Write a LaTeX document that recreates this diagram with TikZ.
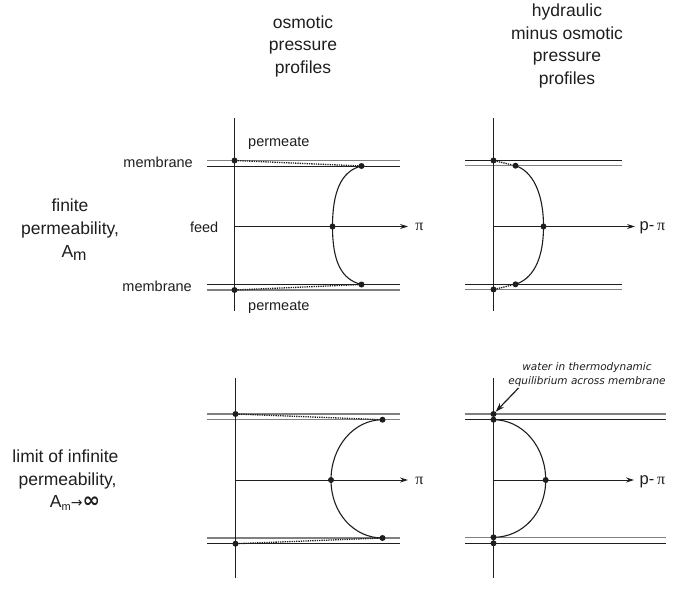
\documentclass[tikz,border=0pt]{standalone}
\usepackage{fontspec}
\setmainfont{Liberation Sans}
\newfontfamily\dejavu{DejaVu Sans}
\newfontfamily\timesf{Liberation Serif}
\usetikzlibrary{arrows.meta}
\definecolor{ink}{HTML}{1E1E1E}
\definecolor{memgray}{HTML}{808080}
\begin{document}
\begin{tikzpicture}[x=1pt,y=-1pt,
  axis/.style={draw=ink, line width=0.9pt},
  thickax/.style={draw=ink, line width=1.8pt},
  memA/.style={draw=ink, line width=1pt},
  memB/.style={draw=memgray, line width=1.2pt},
  dot/.style={circle, fill=ink, inner sep=0pt, minimum size=6pt},
  prof/.style={draw=ink, line width=1.1pt},
  dotl/.style={draw=ink, line width=1.3pt, densely dotted},
  arr/.style={-{Stealth[length=8pt,width=5pt]}},
  bigtxt/.style={font=\fontsize{17.5}{21}\selectfont, text=ink, inner sep=0pt, anchor=base},
  smalltxt/.style={font=\fontsize{14.5}{16}\selectfont, text=ink, inner sep=0pt},
  anntxt/.style={font=\dejavu\itshape\fontsize{10.5}{12}\selectfont, text=ink, inner sep=0pt, anchor=base}]
\useasboundingbox (0,0) rectangle (687,589);

% ---------- headers ----------
\node[bigtxt] (h1a) at (303,28.3) {osmotic};
\node[bigtxt] (h1b) at (303,50.8) {pressure};
\node[bigtxt] (h1c) at (303,73.3) {profiles};
\node[bigtxt] (h2a) at (567,16.7) {hydraulic};
\node[bigtxt] (h2b) at (567,39.2) {minus osmotic};
\node[bigtxt] (h2c) at (567,61.7) {pressure};
\node[bigtxt] (h2d) at (567,84.2) {profiles};

% ---------- row labels ----------
\node[bigtxt] (r1a) at (70,211) {finite};
\node[bigtxt] (r1b) at (70,234) {permeability,};
\node[bigtxt] (r1c) at (74,257) {A\raisebox{-3pt}{\fontsize{16}{16}\selectfont m}};
\node[bigtxt] (r2a) at (65.5,462.7) {limit of infinite};
\node[bigtxt] (r2b) at (67.5,485.2) {permeability,};
\node[bigtxt] (r2c) at (75,507) {A\raisebox{-3pt}{\fontsize{11}{11}\selectfont m}{\dejavu\fontsize{14}{14}\selectfont →}{\dejavu\bfseries\fontsize{21}{21}\selectfont ∞}};

% ---------- panel 1: osmotic, finite ----------
\draw[memB] (207,160.5) -- (400,160.5);
\draw[memA] (207,166) -- (400,166);
\draw[memA] (207,284.5) -- (400,284.5);
\draw[memB] (207,290) -- (400,290);
\coordinate (p1top) at (234.5,118);
\coordinate (p1bot) at (234.5,311);
\coordinate (p1o) at (234.5,226.5);
\coordinate (p1x) at (408,226.5);
\node[dot] (p1a) at (234.5,160.5) {};
\node[dot] (p1b) at (361.5,166) {};
\node[dot] (p1c) at (332.5,226.5) {};
\node[dot] (p1d) at (361.5,284.5) {};
\node[dot] (p1e) at (234.5,290) {};
\draw[axis] (p1top) -- (p1bot);
\draw[thickax] (p1top) -- (p1a.center);
\draw[thickax] (p1e.center) -- (p1bot);
\draw[axis,arr] (p1o) -- (p1x);
\node[inner sep=0pt, text=ink, font=\fontsize{16}{16}\selectfont] (p1pi) at (419.5,227) {\timesf π};
\draw[dotl] (p1a) -- (p1b);
\draw[dotl] (p1e) -- (p1d);
\draw[prof] (p1b.center) .. controls (341,171) and (332.5,192) .. (p1c.center)
  .. controls (332.5,261) and (341,279.5) .. (p1d.center);
\node[smalltxt, anchor=east] (m1) at (193,162) {membrane};
\node[smalltxt, anchor=east] (f1) at (218.5,227) {feed};
\node[smalltxt, anchor=east] (m2) at (192,286.5) {membrane};
\node[smalltxt, anchor=west] (pm1) at (248,143) {permeate};
\node[smalltxt, anchor=west] (pm2) at (248,307) {permeate};

% ---------- panel 2: hydraulic, finite ----------
\draw[memA] (465,160.5) -- (622,160.5);
\draw[memB] (465,165.7) -- (622,165.7);
\draw[memA] (465,284.3) -- (622,284.3);
\draw[memB] (465,289.5) -- (622,289.5);
\coordinate (q1top) at (493.5,118);
\coordinate (q1bot) at (493.5,311);
\coordinate (q1o) at (493.5,226.5);
\coordinate (q1x) at (635,226.5);
\node[dot] (q1a) at (493.5,160.5) {};
\node[dot] (q1b) at (515.5,165.7) {};
\node[dot] (q1c) at (543.5,226.5) {};
\node[dot] (q1d) at (515.5,284.3) {};
\node[dot] (q1e) at (493.5,289.5) {};
\draw[axis] (q1top) -- (q1bot);
\draw[thickax] (q1top) -- (q1a.center);
\draw[thickax] (q1e.center) -- (q1bot);
\draw[axis,arr] (q1o) -- (q1x);
\node[inner sep=0pt, text=ink, anchor=west, font=\fontsize{16.5}{16}\selectfont] (q1lab) at (639.5,228) {p-\,{\timesf\fontsize{16}{16}\selectfont π}};
\draw[dotl] (q1a) -- (q1b);
\draw[dotl] (q1e) -- (q1d);
\draw[prof] (q1b.center) .. controls (532,171) and (543.5,192) .. (q1c.center)
  .. controls (543.5,261) and (532,279) .. (q1d.center);

% ---------- panel 3: osmotic, infinite ----------
\draw[memB] (207,414) -- (400,414);
\draw[memB] (207,419.7) -- (400,419.7);
\draw[memB] (207,538) -- (400,538);
\draw[memA] (207,543.7) -- (400,543.7);
\coordinate (r1top) at (235.5,378);
\coordinate (r1bot) at (235.5,578);
\coordinate (r1o) at (235.5,480);
\coordinate (r1x) at (408,480);
\node[dot] (ra) at (235.5,414) {};
\node[dot] (rb) at (382.5,419.7) {};
\node[dot] (rc) at (331,480) {};
\node[dot] (rd) at (382.5,538) {};
\node[dot] (re) at (235.5,543.7) {};
\draw[axis] (r1top) -- (r1bot);
\draw[axis,arr] (r1o) -- (r1x);
\node[inner sep=0pt, text=ink, font=\fontsize{16}{16}\selectfont] (r1pi) at (419.5,481) {\timesf π};
\draw[dotl] (ra) -- (rb);
\draw[dotl] (re) -- (rd);
\draw[prof] (rb.center) .. controls (354,419.7) and (331,446.5) .. (rc.center)
  .. controls (331,513) and (354,538) .. (rd.center);

% ---------- panel 4: hydraulic, infinite ----------
\draw[memB] (465,414) -- (666,414);
\draw[memA] (465,419.7) -- (666,419.7);
\draw[memB] (465,537.3) -- (666,537.3);
\draw[memA] (465,543.3) -- (666,543.3);
\coordinate (s1top) at (493.5,378);
\coordinate (s1bot) at (493.5,578);
\coordinate (s1o) at (493.5,480);
\coordinate (s1x) at (634,480);
\node[dot] (sa) at (493.5,414) {};
\node[dot] (sb) at (493.5,419.7) {};
\node[dot] (sc) at (545.7,480) {};
\node[dot] (sd) at (493.5,537.3) {};
\node[dot] (se) at (493.5,543.3) {};
\draw[axis] (s1top) -- (s1bot);
\draw[thickax] (se.center) -- (s1bot);
\draw[axis,arr] (s1o) -- (s1x);
\node[inner sep=0pt, text=ink, anchor=west, font=\fontsize{16.5}{16}\selectfont] (s1lab) at (639.5,481.5) {p-\,{\timesf\fontsize{16}{16}\selectfont π}};
\draw[prof] (sb.center) .. controls (522.5,419.7) and (545.7,446.5) .. (sc.center)
  .. controls (545.7,513) and (522.5,537.3) .. (sd.center);

% annotation
\node[anntxt] (ann1) at (587,370.5) {water in thermodynamic};
\node[anntxt] (ann2) at (587,384.5) {equilibrium across membrane};
\coordinate (annt) at (518.5,388);
\draw[draw=ink, line width=1.2pt, -{Stealth[length=9pt,width=6pt]}] (annt) -- (sa);
\end{tikzpicture}
\end{document}
